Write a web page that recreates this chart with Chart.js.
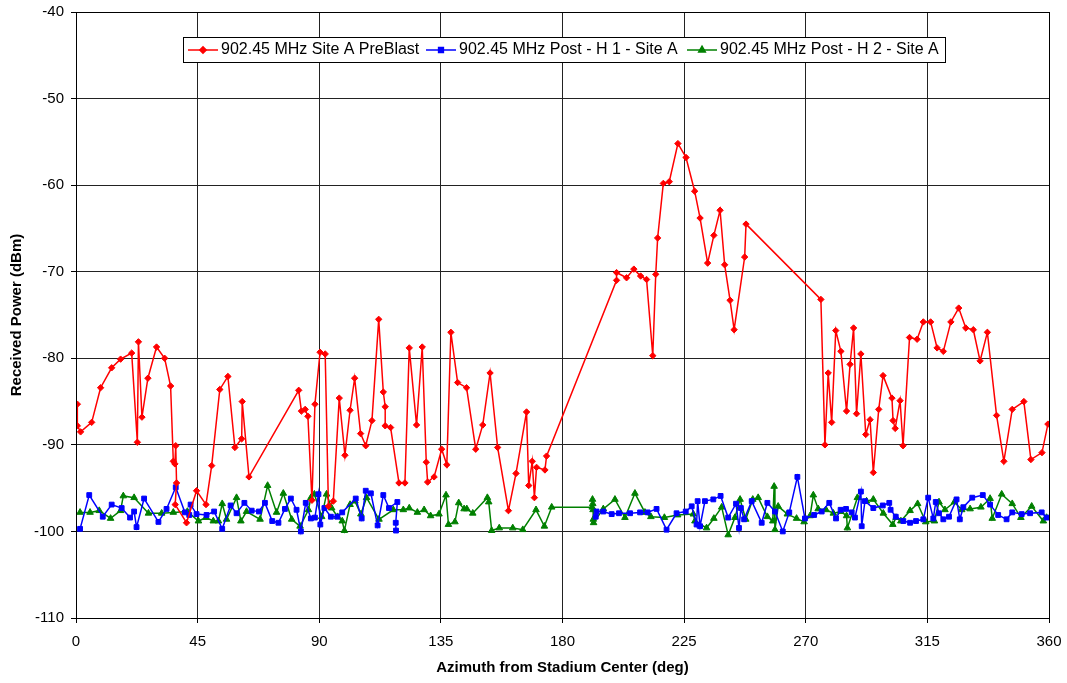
<!DOCTYPE html>
<html>
<head>
<meta charset="utf-8">
<script src="https://cdn.jsdelivr.net/npm/chart.js@4/dist/chart.umd.min.js"></script>
<style>
  body { margin: 0; background: #fff; }
  #wrap { width: 1067px; height: 683px; }
</style>
</head>
<body>
<div id="wrap"><canvas id="chart" width="1067" height="683"></canvas></div>
<script>
// azimuth (deg) / received power (dBm)
const seriesLabels = [
    '902.45 MHz Site A PreBlast',
    '902.45 MHz Post - H 1 - Site A',
    '902.45 MHz Post - H 2 - Site A'
];

const preAz = [0.5, 0.5, 1.7, 5.8, 9.1, 13.2, 16.5, 20.6, 22.7, 23.1, 24.4, 26.6, 29.8, 32.8, 35.0, 36.0, 36.6, 36.9, 37.2, 36.7,
    40.9, 44.6, 48.1, 50.2, 53.2, 56.2, 58.8, 61.3, 61.5, 64.0, 82.4, 83.4, 84.8, 85.8, 87.3, 88.4, 90.3, 92.2, 93.4, 95.2,
    97.4, 99.5, 101.4, 103.1, 105.3, 107.2, 109.5, 112.0, 113.7, 114.4, 114.4, 116.4, 119.5, 121.7, 123.3, 126.0, 128.1, 129.6, 130.1, 132.5,
    135.3, 137.2, 138.7, 141.2, 144.5, 147.9, 150.5, 153.2, 156.0, 160.0, 162.8, 166.7, 167.5, 168.8, 169.6, 170.4, 173.5, 174.1,
    200.0, 200.0, 203.7, 206.4, 208.9, 211.1, 213.4, 214.5, 215.2, 217.3, 219.5, 222.7, 225.7, 228.9, 230.9, 233.7, 236.0, 238.3,
    240.0, 242.0, 243.5, 247.4, 247.9, 275.6, 277.1, 278.3, 279.6, 281.1, 283.0, 285.1, 286.4, 287.7, 288.8, 290.4, 292.2, 293.8,
    295.0, 297.0, 298.6, 301.9, 302.3, 303.1, 304.9, 306.0, 308.4, 311.2, 313.5, 316.2, 318.6, 320.9, 323.7, 326.6, 329.2, 332.0,
    334.5, 337.2, 340.6, 343.3, 346.4, 350.7, 353.3, 357.4, 359.6];
const prePow = [-85.3, -87.8, -88.5, -87.4, -83.4, -81.1, -80.1, -79.4, -89.7, -78.1, -86.8, -82.3, -78.7, -80.0, -83.2, -91.9, -92.2, -90.1, -94.4, -96.9,
    -99.0, -95.3, -96.9, -92.4, -83.6, -82.1, -90.3, -89.3, -85.0, -93.7, -83.7, -86.1, -85.9, -86.7, -96.4, -85.3, -79.3, -79.5, -97.1, -96.5,
    -84.6, -91.2, -86.0, -82.3, -88.7, -90.1, -87.2, -75.5, -83.9, -85.6, -87.8, -88.0, -94.4, -94.4, -78.8, -87.7, -78.7, -92.0, -94.3, -93.7,
    -90.5, -92.3, -77.0, -82.8, -83.4, -90.5, -87.7, -81.7, -90.3, -97.6, -93.3, -86.2, -94.7, -91.9, -96.1, -92.6, -92.9, -91.3,
    -71.0, -70.1, -70.7, -69.7, -70.5, -70.9, -79.7, -70.3, -66.1, -59.8, -59.6, -55.2, -56.8, -60.7, -63.8, -69.0, -65.8, -62.9,
    -69.2, -73.3, -76.7, -68.3, -64.5, -73.2, -90.0, -81.7, -87.4, -76.8, -79.2, -86.1, -80.7, -76.5, -86.4, -79.5, -88.8, -87.1,
    -93.2, -85.9, -82.0, -84.6, -87.2, -88.1, -84.9, -90.1, -77.6, -77.8, -75.8, -75.8, -78.8, -79.2, -75.8, -74.2, -76.5, -76.7,
    -80.3, -77.0, -86.6, -91.9, -85.9, -85.0, -91.7, -90.9, -87.6];

// null marks the gap where the H 1 run has no readings
const h1Az = [1.5, 4.9, 9.9, 13.2, 16.9, 20.0, 21.5, 22.4, 25.2, 30.5, 33.5, 36.9, 40.3, 41.9, 42.4, 44.6, 48.3, 51.1, 54.1, 57.2,
    59.4, 62.3, 65.0, 67.7, 69.9, 72.6, 74.9, 77.3, 79.5, 81.6, 83.2, 85.0, 86.9, 88.4, 89.7, 90.4, 91.9, 94.3, 96.7, 98.5,
    103.5, 105.7, 107.2, 109.1, 111.6, 113.7, 115.8, 118.9, 118.3, 118.4, 150,
    192.3, 192.6, 195.1, 198.2, 200.9, 205.0, 208.7, 211.5, 214.8, 218.5, 222.2, 225.6, 227.8, 229.6, 230.0, 230.9, 232.7, 235.8, 238.5,
    241.3, 244.2, 245.3, 246.0, 247.2, 250.0, 253.7, 255.8, 258.6, 261.5, 263.9, 266.9, 269.7, 273.1, 275.9, 278.7, 281.2, 282.9, 284.9,
    287.0, 288.2, 290.4, 290.7, 291.9, 295.0, 298.5, 300.9, 301.4, 303.3, 306.1, 308.6, 310.8, 313.5, 315.3, 317.2, 318.1, 319.3, 320.9,
    323.0, 325.8, 327.0, 328.3, 331.6, 335.5, 338.2, 341.2, 344.3, 346.4, 349.9, 353.0, 357.3, 359.1];
const h1Pow = [-99.7, -95.8, -98.3, -96.9, -97.3, -98.4, -97.7, -99.5, -96.2, -98.9, -97.4, -94.9, -97.8, -98.1, -96.9, -98.0, -98.1, -97.7, -99.7, -97.0,
    -97.9, -96.7, -97.6, -97.7, -96.7, -98.8, -99.0, -97.4, -96.2, -97.5, -100.0, -96.7, -98.5, -98.4, -95.7, -99.2, -97.3, -98.3, -98.3, -97.8,
    -96.2, -98.5, -95.3, -95.6, -99.3, -95.8, -97.3, -96.6, -99.0, -99.9, null,
    -98.3, -97.7, -97.7, -98.0, -97.9, -97.9, -97.8, -97.8, -97.4, -99.8, -97.9, -97.7, -97.1, -99.2, -96.5, -99.4, -96.5, -96.3, -95.9,
    -98.4, -96.8, -99.6, -97.3, -98.6, -96.5, -99.0, -96.7, -97.7, -100.0, -97.8, -93.7, -98.5, -98.1, -97.7, -96.7, -98.5, -97.5, -97.4,
    -97.8, -98.4, -95.4, -99.4, -96.5, -97.3, -97.0, -96.7, -97.5, -98.3, -98.8, -99.0, -98.8, -98.6, -96.1, -98.5, -96.6, -97.9, -98.6,
    -98.3, -96.3, -98.6, -97.2, -96.1, -95.8, -96.9, -98.1, -98.6, -97.8, -98.0, -97.9, -97.8, -98.4];

const h2Az = [1.5, 5.2, 8.6, 12.8, 16.5, 17.5, 21.5, 26.8, 31.7, 36.0, 41.2, 45.3, 48.1, 50.8, 52.7, 54.1, 55.7, 59.4, 61.0, 63.1,
    68.1, 70.9, 74.2, 76.7, 79.8, 82.9, 86.0, 86.9, 88.2, 90.9, 92.7, 94.6, 96.8, 98.5, 99.3, 101.4, 103.2, 105.4, 107.5, 112.1,
    117.4, 121.1, 123.3, 126.3, 128.8, 131.2, 134.3, 136.9, 137.8, 140.2, 141.6, 143.6, 144.6, 146.8, 152.2, 152.7, 153.8, 156.6, 161.6, 165.3,
    170.2, 173.3, 176.0, 191.0, 191.1, 191.2, 191.3, 191.4, 191.5, 195.1, 199.4, 203.1, 206.8, 210.5, 212.7, 217.7, 222.6, 228.4, 229.0, 233.3,
    236.0, 238.9, 241.3, 243.8, 245.7, 247.8, 250.4, 252.4, 255.8, 257.8, 258.3, 258.6, 259.8, 263.2, 266.6, 269.4, 271.6, 272.8, 274.6, 277.5,
    280.2, 283.0, 285.1, 285.4, 289.1, 292.5, 295.0, 298.7, 302.2, 303.4, 305.2, 308.6, 311.4, 314.4, 317.6, 319.3, 321.5, 325.0, 327.7, 330.8,
    334.8, 338.2, 339.0, 342.5, 346.4, 349.6, 353.6, 357.9, 359.1];
const h2Pow = [-97.8, -97.8, -97.6, -98.5, -97.6, -95.9, -96.1, -97.9, -97.9, -97.8, -97.7, -98.8, -98.4, -98.8, -98.8, -96.8, -98.6, -96.1, -98.8, -97.7,
    -98.6, -94.7, -97.8, -95.6, -98.6, -99.4, -97.5, -96.1, -95.7, -98.3, -95.7, -97.3, -98.3, -98.8, -99.9, -96.9, -96.5, -98.0, -96.1, -98.6,
    -97.5, -97.5, -97.3, -97.8, -97.5, -98.2, -98.0, -95.8, -99.2, -98.9, -96.7, -97.4, -97.4, -97.9, -96.1, -96.6, -99.9, -99.6, -99.6, -99.8,
    -97.5, -99.4, -97.2, -97.2, -96.3, -96.8, -97.5, -98.6, -99.0, -97.4, -96.3, -98.4, -95.6, -97.8, -98.3, -98.4, -98.1, -98.0, -98.8, -99.6,
    -98.5, -97.2, -100.4, -98.4, -96.3, -98.6, -96.3, -96.1, -98.3, -98.8, -94.8, -99.8, -97.1, -98.0, -98.5, -98.9, -98.2, -95.8, -97.4, -97.5,
    -97.9, -97.7, -98.2, -99.6, -96.1, -96.5, -96.3, -97.9, -99.2, -98.4, -98.8, -97.6, -96.8, -98.9, -98.8, -96.6, -97.5, -96.6, -97.5, -97.4,
    -97.2, -96.2, -98.5, -95.7, -96.8, -98.4, -97.1, -98.8, -98.4];

const xTicks = [0, 45, 90, 135, 180, 225, 270, 315, 360];
const yTicks = [-40, -50, -60, -70, -80, -90, -100, -110];

const colors = ['#ff0000', '#0000ff', '#008000'];
const markers = ['rectRot', 'rect', 'triangle'];
const markerSize = [3.2, 3.4, 3.8];

function toPoints(az, pow) {
    return az.map((a, i) => ({ x: a, y: pow[i] }));
}

const FONT = "'Liberation Sans', Arial, sans-serif";

// box round the plot area
const frame = {
    id: 'frame',
    afterDraw(chart) {
        const { ctx, chartArea: a } = chart;
        ctx.save();
        ctx.strokeStyle = '#000';
        ctx.lineWidth = 1;
        ctx.strokeRect(Math.round(a.left) + 0.5, Math.round(a.top) + 0.5,
            Math.round(a.right - a.left), Math.round(a.bottom - a.top));
        ctx.restore();
    }
};

// legend sits inside the plot, framed, like the original
const boxLegend = {
    id: 'boxLegend',
    afterDraw(chart) {
        const ctx = chart.ctx;
        const box = { x: 183, y: 37, w: 762, h: 25 };
        const lineX = [188, 426, 687];
        ctx.save();
        ctx.fillStyle = '#fff';
        ctx.fillRect(box.x, box.y, box.w, box.h);
        ctx.strokeStyle = '#000';
        ctx.lineWidth = 1;
        ctx.strokeRect(box.x + 0.5, box.y + 0.5, box.w, box.h);
        const cy = box.y + box.h / 2 + 0.5;
        ctx.font = '16px ' + FONT;
        ctx.textBaseline = 'middle';
        chart.data.datasets.forEach((ds, i) => {
            const x0 = lineX[i];
            ctx.strokeStyle = ds.borderColor;
            ctx.fillStyle = ds.backgroundColor;
            ctx.lineWidth = 1.5;
            ctx.beginPath();
            ctx.moveTo(x0, cy);
            ctx.lineTo(x0 + 30, cy);
            ctx.stroke();
            Chart.helpers.drawPoint(ctx, {
                pointStyle: ds.pointStyle,
                radius: ds.pointRadius,
                borderWidth: 1
            }, x0 + 15, cy);
            ctx.fillStyle = '#000';
            ctx.fillText(ds.label, x0 + 33, cy);
        });
        ctx.restore();
    }
};

function makeDataset(i, az, pow) {
    return {
        label: seriesLabels[i],
        data: toPoints(az, pow),
        showLine: true,
        spanGaps: false,
        borderColor: colors[i],
        backgroundColor: colors[i],
        borderWidth: 1.5,
        pointStyle: markers[i],
        pointRadius: markerSize[i],
        pointBorderWidth: 1,
        pointHoverRadius: markerSize[i],
        tension: 0
    };
}

function renderChart() {
    Chart.defaults.font.family = FONT;
    Chart.defaults.color = '#000';

    new Chart(document.getElementById('chart'), {
        type: 'scatter',
        data: {
            datasets: [
                makeDataset(0, preAz, prePow),
                makeDataset(1, h1Az, h1Pow),
                makeDataset(2, h2Az, h2Pow)
            ]
        },
        options: {
            responsive: false,
            animation: false,
            layout: { padding: { top: 12, right: 18, left: 0, bottom: 0 } },
            plugins: {
                legend: { display: false },
                tooltip: { enabled: false }
            },
            scales: {
                x: {
                    type: 'linear',
                    min: 0,
                    max: 360,
                    afterBuildTicks: scale => { scale.ticks = xTicks.map(v => ({ value: v })); },
                    afterFit: scale => {
                        scale.height = 65;
                        scale.paddingLeft = 0;
                        scale.paddingRight = 0;
                    },
                    grid: { color: '#222', lineWidth: 1, tickLength: 5, drawTicks: true, tickColor: '#000' },
                    border: { color: '#000', width: 1 },
                    ticks: { font: { size: 15 }, padding: 10, maxRotation: 0 },
                    title: {
                        display: true,
                        text: 'Azimuth from Stadium Center (deg)',
                        font: { size: 15, weight: 'bold' },
                        padding: { top: 0, bottom: 6 }
                    }
                },
                y: {
                    type: 'linear',
                    min: -110,
                    max: -40,
                    afterBuildTicks: scale => { scale.ticks = yTicks.map(v => ({ value: v })); },
                    afterFit: scale => {
                        scale.width = 76;
                        scale.paddingTop = 0;
                        scale.paddingBottom = 0;
                    },
                    grid: { color: '#222', lineWidth: 1, tickLength: 5, drawTicks: true, tickColor: '#000' },
                    border: { color: '#000', width: 1 },
                    ticks: { font: { size: 15 }, padding: 7 },
                    title: {
                        display: true,
                        text: 'Received Power (dBm)',
                        font: { size: 15, weight: 'bold' },
                        padding: { top: 8, bottom: 0 }
                    }
                }
            }
        },
        plugins: [frame, boxLegend]
    });
}

document.addEventListener('DOMContentLoaded', renderChart);
</script>
</body>
</html>
